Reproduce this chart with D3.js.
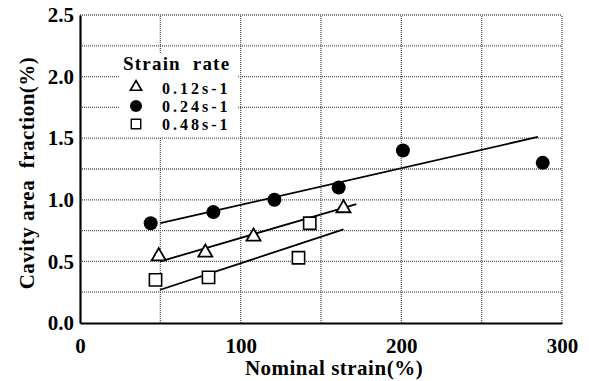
<!DOCTYPE html>
<html>
<head>
<meta charset="utf-8">
<script src="https://cdn.jsdelivr.net/npm/d3@7"></script>
<style>
 body { margin: 0; background: #fff; }
 text { font-family: "Liberation Serif", "DejaVu Serif", serif; font-weight: bold; fill: #000; }
</style>
</head>
<body>
<script>
'use strict'
// Cavity area fraction vs nominal strain, three strain rates

const rates = ["0.12s-1", "0.24s-1", "0.48s-1"];

// measured points per strain rate
const strain012 = [49, 78, 108, 164];
const cavity012 = [0.55, 0.58, 0.71, 0.94];
const strain024 = [44, 83, 121, 161, 201, 288];
const cavity024 = [0.81, 0.90, 1.00, 1.10, 1.40, 1.30];
const strain048 = [47, 80, 136, 143];
const cavity048 = [0.35, 0.37, 0.53, 0.81];

// fitted lines: [x start, y start, x end, y end]
const fit012 = [50, 0.50, 172, 0.965];
const fit024 = [50, 0.81, 285, 1.51];
const fit048 = [50, 0.27, 164, 0.76];

const xTicks = [0, 100, 200, 300];
const yTicks = [0.0, 0.5, 1.0, 1.5, 2.0, 2.5];

let width = 589, height = 381;
let margin = {left: 80, top: 15, right: 27, bottom: 58};

let svg = d3.select("body").append("svg")
 .attr("width", width)
 .attr("height", height);

let x = d3.scaleLinear().domain([0, 300]).range([margin.left, width - margin.right]);
let y = d3.scaleLinear().domain([0, 2.5]).range([height - margin.bottom, margin.top]);

// dotted grid
let grid = svg.append("g");
grid.selectAll("line.v").data(d3.range(50, 301, 50)).enter().append("line")
 .attr("x1", d => x(d)).attr("x2", d => x(d))
 .attr("y1", y(0)).attr("y2", y(2.5))
 .attr("stroke", "#555").attr("stroke-width", 1.3).attr("stroke-dasharray", "1,1");
grid.selectAll("line.h").data(d3.range(0.25, 2.51, 0.25)).enter().append("line")
 .attr("x1", x(0)).attr("x2", x(300))
 .attr("y1", d => y(d)).attr("y2", d => y(d))
 .attr("stroke", "#555").attr("stroke-width", 1.3).attr("stroke-dasharray", "1,1");

// axes
let xAxis = svg.append("g")
 .attr("transform", "translate(0," + y(0) + ")")
 .call(d3.axisBottom(x).tickValues(xTicks).tickSize(0).tickFormat(d3.format("d")));
let yAxis = svg.append("g")
 .attr("transform", "translate(" + x(0) + ",0)")
 .call(d3.axisLeft(y).tickValues(yTicks).tickSize(0).tickPadding(6).tickFormat(d3.format(".1f")));
[xAxis, yAxis].forEach(a => {
 a.select(".domain").attr("stroke", "#000").attr("stroke-width", 2.2);
 a.selectAll("text").attr("font-size", 21).attr("font-family", "Liberation Serif").attr("font-weight", "bold");
});
xAxis.selectAll("text").attr("y", 30).attr("dy", 0);

// axis titles
svg.append("text")
 .attr("x", 334).attr("y", 375)
 .attr("text-anchor", "middle").attr("font-size", 21).attr("letter-spacing", 0.5)
 .text("Nominal strain(%)");
svg.append("text")
 .attr("transform", "translate(34," + 173 + ") rotate(-90)")
 .attr("text-anchor", "middle").attr("font-size", 21).attr("letter-spacing", 0.5)
 .attr("xml:space", "preserve")
 .text("Cavity area  fraction(%)");

// fit lines
[fit012, fit024, fit048].forEach(f => {
 svg.append("line")
  .attr("x1", x(f[0])).attr("y1", y(f[1]))
  .attr("x2", x(f[2])).attr("y2", y(f[3]))
  .attr("stroke", "#000").attr("stroke-width", 1.8);
});

// markers
let tri = d3.symbol().type(d3.symbolTriangle).size(85);
let sq = d3.symbol().type(d3.symbolSquare).size(150);

svg.selectAll("path.tri").data(d3.zip(strain012, cavity012)).enter().append("path")
 .attr("d", tri)
 .attr("transform", d => "translate(" + x(d[0]) + "," + (y(d[1]) + 1) + ")")
 .attr("fill", "#fff").attr("stroke", "#000").attr("stroke-width", 1.8);
svg.selectAll("circle.dot").data(d3.zip(strain024, cavity024)).enter().append("circle")
 .attr("cx", d => x(d[0])).attr("cy", d => y(d[1]))
 .attr("r", 7).attr("fill", "#000");
svg.selectAll("path.sq").data(d3.zip(strain048, cavity048)).enter().append("path")
 .attr("d", sq)
 .attr("transform", d => "translate(" + x(d[0]) + "," + y(d[1]) + ")")
 .attr("fill", "#fff").attr("stroke", "#000").attr("stroke-width", 1.6);

// legend
let legend = svg.append("g");
legend.append("rect").attr("x", 119).attr("y", 54).attr("width", 119).attr("height", 83).attr("fill", "#fff");
legend.append("text").attr("x", 123).attr("y", 70).attr("font-size", 19).attr("letter-spacing", 1.2)
 .attr("xml:space", "preserve").text("Strain  rate");
let ly = [88, 106, 124];
legend.append("path").attr("d", d3.symbol().type(d3.symbolTriangle).size(55))
 .attr("transform", "translate(136," + (ly[0] - 1) + ")")
 .attr("fill", "#fff").attr("stroke", "#000").attr("stroke-width", 1.6);
legend.append("circle").attr("cx", 136).attr("cy", ly[1]).attr("r", 6).attr("fill", "#000");
legend.append("path").attr("d", d3.symbol().type(d3.symbolSquare).size(90))
 .attr("transform", "translate(136," + ly[2] + ")")
 .attr("fill", "#fff").attr("stroke", "#000").attr("stroke-width", 1.4);
legend.selectAll("text.rate").data(rates).enter().append("text")
 .attr("x", 162).attr("y", (d, i) => ly[i] + 6)
 .attr("font-size", 16).attr("letter-spacing", 3)
 .text(d => d);
</script>
</body>
</html>
